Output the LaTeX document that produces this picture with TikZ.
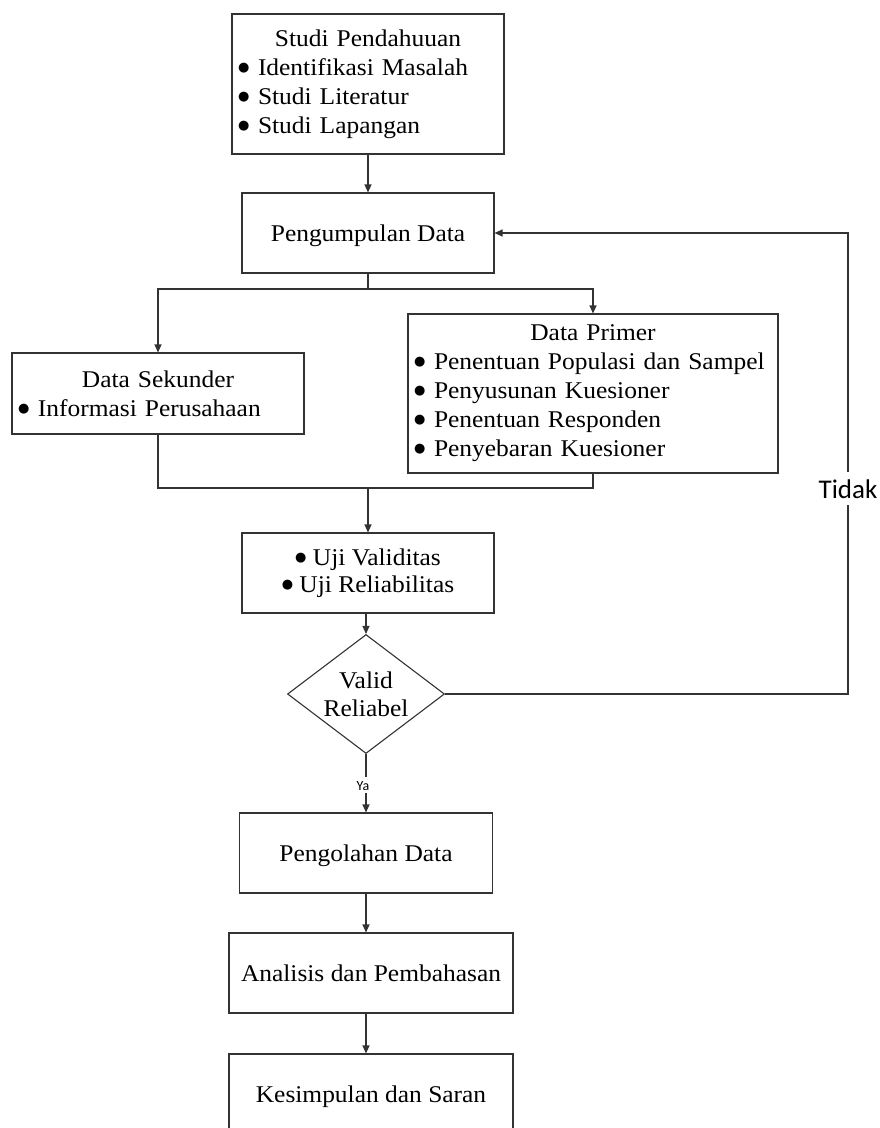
\documentclass[tikz,border=0pt]{standalone}
\usepackage{fontspec}
\setmainfont{Liberation Serif}[FakeStretch=1.06]
\newfontfamily\calfont{Carlito}
\newfontfamily\dvsfont{DejaVu Sans}
\usetikzlibrary{arrows.meta,shapes.geometric}
\newcommand\mydot{\raisebox{4pt}{\dvsfont\fontsize{13}{13}\selectfont ●}}
\newcommand\myb{\makebox[19pt][l]{\hspace{-1pt}\mydot}}
\begin{document}
\begin{tikzpicture}[x=1pt,y=-1pt,
  box/.style={draw=black!80, line width=1.1pt, rectangle, inner sep=0pt, font=\fontsize{24}{29}\selectfont},
  single/.style={box, text height=16pt, text depth=0pt},
  arr/.style={draw=black!80, line width=1.1pt, -{Triangle[length=8pt,width=7pt]}},
  ln/.style={draw=black!80, line width=1.1pt},
  lbl/.style={fill=white, font=\calfont}]
\useasboundingbox (0,0) rectangle (880,1128);

\node (b1) [box, minimum width=272pt, minimum height=140pt, text width=258pt] at (368,84)
  {\centering Studi Pendahuuan\par\raggedright
   \myb Identifikasi Masalah\par
   \myb Studi Literatur\par
   \myb Studi Lapangan\par};

\node (b2) [single, minimum width=252pt, minimum height=80pt] at (368,233) {Pengumpulan Data};

\node (sek) [box, minimum width=292pt, minimum height=81pt, text width=278pt] at (158,393.5)
  {\centering Data Sekunder\par\raggedright
   \myb Informasi Perusahaan\par};

\node (pri) [box, minimum width=370pt, minimum height=159pt, text width=356pt] at (593,393.5)
  {\centering Data Primer\par\raggedright
   \myb Penentuan Populasi dan Sampel\par
   \myb Penyusunan Kuesioner\par
   \myb Penentuan Responden\par
   \myb Penyebaran Kuesioner\par};

\node (uji) [box, minimum width=252pt, minimum height=80pt, align=center,
  font=\fontsize{24}{27}\selectfont] at (368,573)
  {\mydot\ Uji Validitas\\ \mydot\ Uji Reliabilitas};

\node (dia) [diamond, draw=black!80, line width=1.1pt, minimum width=157pt,
  minimum height=119pt, inner sep=0pt, aspect=1.32] at (366,694) {};
\node (diatext) [align=center, font=\fontsize{24}{28}\selectfont] at (366,694) {Valid\\Reliabel};

\node (peng) [single, minimum width=253pt, minimum height=80pt] at (366,853) {Pengolahan Data};
\node (anal) [single, minimum width=284pt, minimum height=80pt] at (371,973) {Analisis dan Pembahasan};
\node (kes)  [single, minimum width=284pt, minimum height=80pt] at (371,1094) {Kesimpulan dan Saran};

% connectors
\draw[arr] (b1.south) -- (b2.north);
\coordinate (split) at (368,289);
\draw[ln] (b2.south) -- (split);
\draw[arr] (split) -| (sek.north);
\draw[arr] (split) -| (pri.north);

\coordinate (merge) at (368,488);
\draw[ln] (sek.south) -- (sek.south |- merge) -- (pri.south |- merge) -- (pri.south);
\draw[arr] (merge) -- (uji.north);

\draw[arr] (uji.south -| dia.north) -- (dia.north);

\coordinate (c1) at (848,694);
\coordinate (c2) at (848,233);
\draw[arr] (dia.east) -- (c1) -- (c2) -- (b2.east);
\node (tidak) [lbl, inner xsep=1pt, inner ysep=7pt, text height=19pt, text depth=0pt,
  font=\calfont\fontsize{27}{27}\selectfont] at (848,488.5) {Tidak};

\draw[arr] (dia.south) -- (dia.south |- peng.north);
\node (ya) [lbl, inner xsep=1pt, inner ysep=3pt, text height=10pt, text depth=0pt,
  font=\calfont\fontsize{14}{14}\selectfont] at (363,785) {Ya};

\draw[arr] (peng.south) -- (peng.south |- anal.north);
\draw[arr] (peng.south |- anal.south) -- (peng.south |- kes.north);
\end{tikzpicture}
\end{document}
